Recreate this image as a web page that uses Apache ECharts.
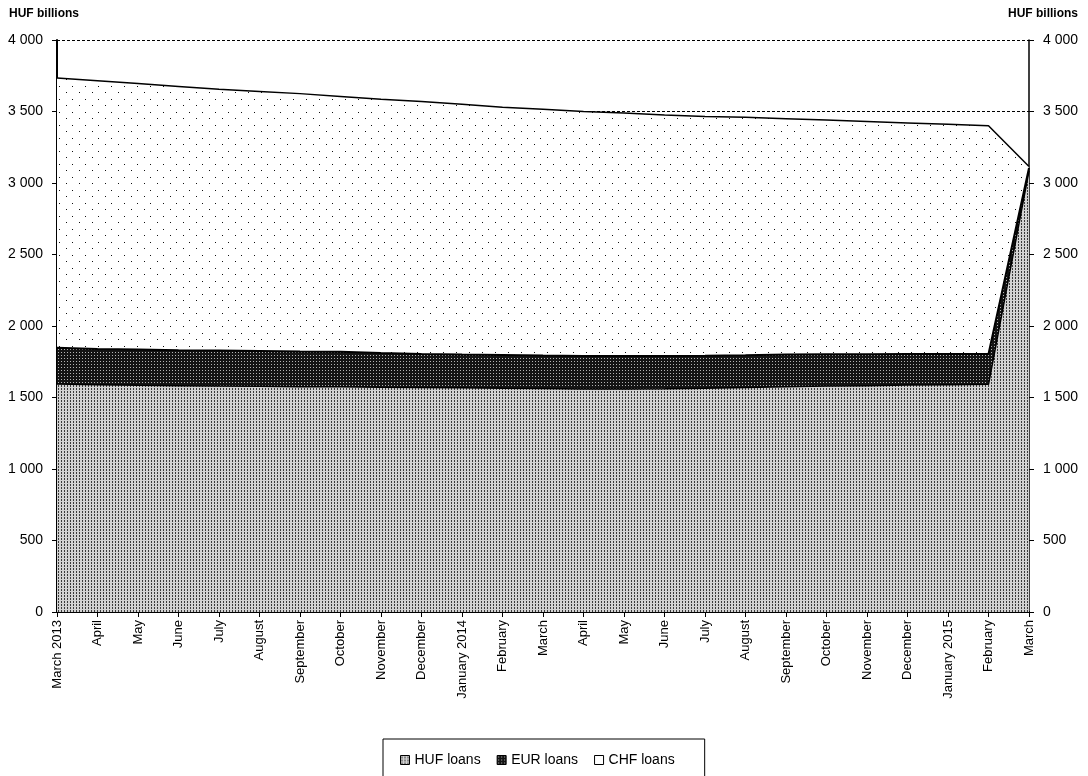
<!DOCTYPE html>
<html>
<head>
<meta charset="utf-8">
<script src="https://cdn.jsdelivr.net/npm/echarts@6/dist/echarts.min.js"></script>
<style>
  html, body { margin: 0; padding: 0; background: #fff; }
  #chart { width: 1088px; height: 776px; }
</style>
</head>
<body>
<div id="chart"></div>
<script>
var months = ['March 2013', 'April', 'May', 'June', 'July', 'August', 'September', 'October',
  'November', 'December', 'January 2014', 'February', 'March', 'April', 'May', 'June', 'July',
  'August', 'September', 'October', 'November', 'December', 'January 2015', 'February', 'March'];

// HUF billions
var hufLoans = [1595, 1590, 1585, 1583, 1580, 1578, 1576, 1575, 1572, 1570, 1568, 1565, 1563,
  1560, 1560, 1562, 1565, 1570, 1575, 1580, 1583, 1587, 1590, 1592, 3085];
var eurLoans = [253, 250, 250, 247, 248, 247, 246, 245, 240, 235, 232, 232, 230,
  230, 230, 228, 227, 225, 225, 222, 220, 217, 215, 213, 20];
var chfLoans = [1887, 1875, 1860, 1845, 1827, 1815, 1803, 1785, 1773, 1765, 1750, 1733, 1722,
  1710, 1700, 1685, 1673, 1665, 1650, 1638, 1627, 1616, 1605, 1595, 10];

var yTicks = { min: 0, max: 4000, interval: 500 };

function makePattern(w, h, bg, dot, dots) {
  var c = document.createElement('canvas');
  c.width = w;
  c.height = h;
  var ctx = c.getContext('2d');
  ctx.fillStyle = bg;
  ctx.fillRect(0, 0, w, h);
  ctx.fillStyle = dot;
  for (var i = 0; i < dots.length; i++) {
    ctx.fillRect(dots[i][0], dots[i][1], 1, 1);
  }
  return { image: c, repeat: 'repeat' };
}

var hufFill = makePattern(3, 3, '#d2d2d2', '#3a3a3a', [[1, 1], [1, 2]]);
var eurFill = makePattern(3, 3, '#141414', '#b4b4b4', [[1, 1]]);
var chfFill = makePattern(13, 13, '#ffffff', '#111', [[1, 1], [7, 8]]);

function fmt(v) {
  return String(v).replace(/\B(?=(\d{3})+$)/g, ' ');
}

var font = 'Liberation Sans';
var chart = echarts.init(document.getElementById('chart'), null, { renderer: 'canvas' });

var yAxisBase = {
  type: 'value',
  min: yTicks.min,
  max: yTicks.max,
  interval: yTicks.interval,
  axisLine: { show: true, lineStyle: { color: '#000', width: 2 } },
  axisTick: { show: true, length: 5, lineStyle: { color: '#000' } },
  axisLabel: { color: '#000', fontFamily: font, fontSize: 14, margin: 14, formatter: fmt }
};

var option = {
  animation: false,
  backgroundColor: '#fff',
  grid: { left: 57, right: 59, top: 40, bottom: 164 },
  graphic: [
    { type: 'text', left: 9, top: 8,
      style: { text: 'HUF billions', font: 'bold 12px "' + font + '"', fill: '#000' } },
    { type: 'text', right: 10, top: 8,
      style: { text: 'HUF billions', font: 'bold 12px "' + font + '"', fill: '#000' } }
  ],
  legend: {
    left: 383,
    top: 739,
    padding: [14, 30, 20, 17],
    borderColor: '#000',
    borderWidth: 1,
    itemGap: 16,
    itemWidth: 9,
    itemHeight: 9,
    icon: 'rect',
    textStyle: { color: '#000', fontFamily: font, fontSize: 14 },
    data: [
      { name: 'HUF loans', itemStyle: { color: hufFill, borderColor: '#000', borderWidth: 1 } },
      { name: 'EUR loans', itemStyle: { color: eurFill, borderColor: '#000', borderWidth: 1 } },
      { name: 'CHF loans', itemStyle: { color: '#fff', borderColor: '#000', borderWidth: 1 } }
    ]
  },
  xAxis: {
    type: 'category',
    boundaryGap: false,
    data: months,
    axisLine: { lineStyle: { color: '#000', width: 2 } },
    axisTick: { show: true, interval: 0, length: 5, lineStyle: { color: '#000' } },
    axisLabel: { interval: 0, rotate: 90, color: '#000', fontFamily: font, fontSize: 13, margin: 8 }
  },
  yAxis: [
    Object.assign({}, yAxisBase, {
      position: 'left',
      splitLine: { show: true, lineStyle: { color: '#000', type: [3, 2], width: 1 } }
    }),
    Object.assign({}, yAxisBase, {
      position: 'right',
      axisLine: { show: true, lineStyle: { color: '#000', width: 1.5 } },
      splitLine: { show: false }
    })
  ],
  series: [
    {
      name: 'HUF loans',
      type: 'line',
      stack: 'total',
      showSymbol: false,
      data: hufLoans,
      lineStyle: { color: '#000', width: 1.5 },
      itemStyle: { color: '#888' },
      areaStyle: { color: hufFill, opacity: 1 }
    },
    {
      name: 'EUR loans',
      type: 'line',
      stack: 'total',
      showSymbol: false,
      data: eurLoans,
      lineStyle: { color: '#000', width: 2 },
      itemStyle: { color: '#222' },
      areaStyle: { color: eurFill, opacity: 1 }
    },
    {
      name: 'CHF loans',
      type: 'line',
      stack: 'total',
      showSymbol: false,
      data: chfLoans,
      lineStyle: { color: '#000', width: 1.5 },
      itemStyle: { color: '#fff' },
      areaStyle: { color: chfFill, opacity: 1 }
    }
  ]
};

chart.setOption(option);
</script>
</body>
</html>
